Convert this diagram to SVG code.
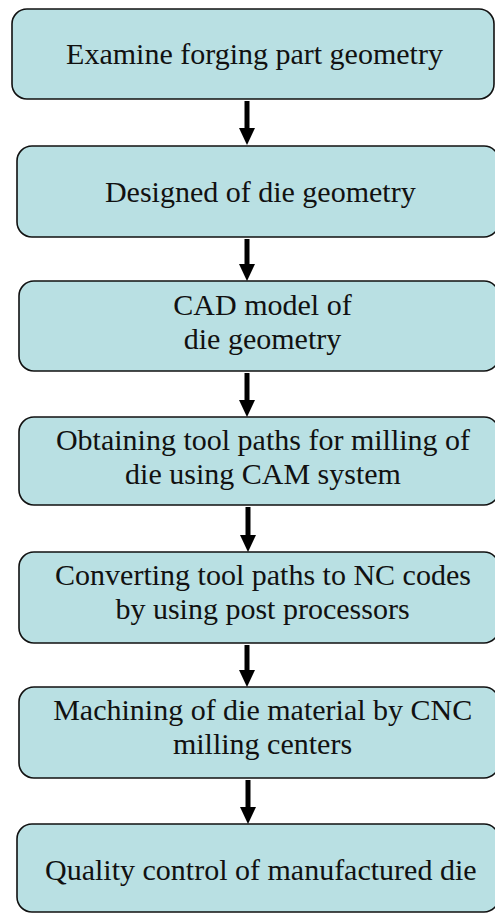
<svg xmlns="http://www.w3.org/2000/svg" width="495" height="913" viewBox="0 0 495 913">
<style>
.box{fill:#b9e0e3;stroke:#111;stroke-width:1.6}
.t{font-family:"Liberation Serif","Times New Roman",serif;font-size:30px;fill:#111;text-anchor:middle}
.sh{stroke:#000;stroke-width:5}
.hd{fill:#000}
</style>
<rect width="495" height="913" fill="#fff"/>
<g id="n1"><rect class="box" x="12" y="9" width="482" height="90" rx="15"/><text class="t" x="254.5" y="64">Examine forging part geometry</text></g>
<g id="n2"><rect class="box" x="17" y="146" width="482" height="91" rx="15"/><text class="t" x="260.3" y="202">Designed of die geometry</text></g>
<g id="n3"><rect class="box" x="19" y="281" width="480" height="90" rx="15"/><text class="t" x="262.5" y="315">CAD model of</text><text class="t" x="262.5" y="348.5">die geometry</text></g>
<g id="n4"><rect class="box" x="19" y="417" width="480" height="88" rx="15"/><text class="t" x="263" y="449.5">Obtaining tool paths for milling of</text><text class="t" x="263" y="483.5">die using CAM system</text></g>
<g id="n5"><rect class="box" x="19" y="552" width="480" height="91" rx="15"/><text class="t" x="263" y="585">Converting tool paths to NC codes</text><text class="t" x="262.5" y="618.5">by using post processors</text></g>
<g id="n6"><rect class="box" x="19" y="687" width="480" height="91" rx="15"/><text class="t" x="262.7" y="719.5">Machining of die material by CNC</text><text class="t" x="262.5" y="753.5">milling centers</text></g>
<g id="n7"><rect class="box" x="17" y="824" width="482" height="88" rx="15"/><text class="t" x="260.8" y="879.5">Quality control of manufactured die</text></g>
<g id="connectors">
<line class="sh" x1="247" y1="101" x2="247" y2="130"/><polygon class="hd" points="239,128 255,128 247,145"/>
<line class="sh" x1="247" y1="239" x2="247" y2="266"/><polygon class="hd" points="239,264 255,264 247,281"/>
<line class="sh" x1="247" y1="373" x2="247" y2="402"/><polygon class="hd" points="239,400 255,400 247,417"/>
<line class="sh" x1="248" y1="507" x2="248" y2="537"/><polygon class="hd" points="240,535 256,535 248,552"/>
<line class="sh" x1="247" y1="645" x2="247" y2="672"/><polygon class="hd" points="239,670 255,670 247,687"/>
<line class="sh" x1="248" y1="780" x2="248" y2="809"/><polygon class="hd" points="240,807 256,807 248,824"/>
</g>
</svg>
